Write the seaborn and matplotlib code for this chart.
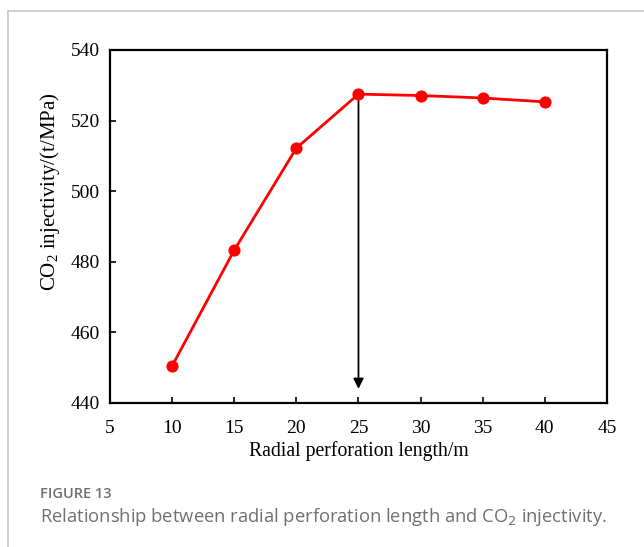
import matplotlib
matplotlib.use("Agg")
import matplotlib.pyplot as plt
import seaborn as sns
import pandas as pd
from matplotlib.lines import Line2D

lengths = [10, 15, 20, 25, 30, 35, 40]
injectivity = [450.5, 483.3, 512.2, 527.5, 527.1, 526.4, 525.3]
xticks = [5, 10, 15, 20, 25, 30, 35, 40, 45]
yticks = [440, 460, 480, 500, 520, 540]

sns.set_theme(style="white")
plt.rcParams['font.family'] = ['Liberation Serif', 'DejaVu Serif']
plt.rcParams['mathtext.fontset'] = 'custom'
plt.rcParams['mathtext.rm'] = 'Liberation Serif'
plt.rcParams['mathtext.it'] = 'Liberation Serif'

df = pd.DataFrame({"x": lengths, "y": injectivity})

fig = plt.figure(figsize=(6.44, 5.47), dpi=100)
ax = fig.add_axes([0.1708, 0.2633, 0.7717, 0.6453])

sns.lineplot(data=df, x="x", y="y", ax=ax, color="#ff0000", linewidth=2,
             marker="o", markersize=8, markeredgecolor="#ff0000",
             markerfacecolor="#ff0000")

ax.annotate("", xy=(25, 444), xytext=(25, 525.5),
            arrowprops=dict(arrowstyle="-|>", color="black", lw=1.3,
                            mutation_scale=15, shrinkA=0, shrinkB=0))

ax.set_xlim(5, 45)
ax.set_ylim(440, 540)
ax.set_xticks(xticks)
ax.set_yticks(yticks)
ax.tick_params(direction="in", length=4, width=1.2, labelsize=14,
               colors="black", bottom=True, left=True, top=False, right=False)
ax.tick_params(axis="x", pad=12.5)
ax.tick_params(axis="y", pad=7)
for s in ax.spines.values():
    s.set_color("black")
    s.set_linewidth(1.6)

ax.set_xlabel("Radial perforation length/m", fontsize=14.2, color="black")
ax.xaxis.set_label_coords(0.5, -0.108)
ax.set_ylabel("CO$_2$ injectivity/(t/MPa)", fontsize=15, color="black", va="center")
ax.yaxis.set_label_coords(-0.12, 0.598)

# card border lines
fig.add_artist(Line2D([8/644, 1], [1-11/547, 1-11/547], color="#c8c8c8", lw=1.2))
fig.add_artist(Line2D([8/644, 8/644], [0, 1-11/547], color="#c8c8c8", lw=1.2))

fig.text(40/644, 1-494/547, "FIGURE 13", fontsize=10.5, color="#707070",
         family=["Open Sans", "DejaVu Sans"], fontweight="semibold", va="center")
fig.text(40/644, 1-517/547, "Relationship between radial perforation length and CO$_2$ injectivity.",
         fontsize=13.2, color="#707070", family=["Open Sans", "DejaVu Sans"], va="center",
         math_fontfamily="dejavusans")

fig.savefig("out.png", dpi=100)
